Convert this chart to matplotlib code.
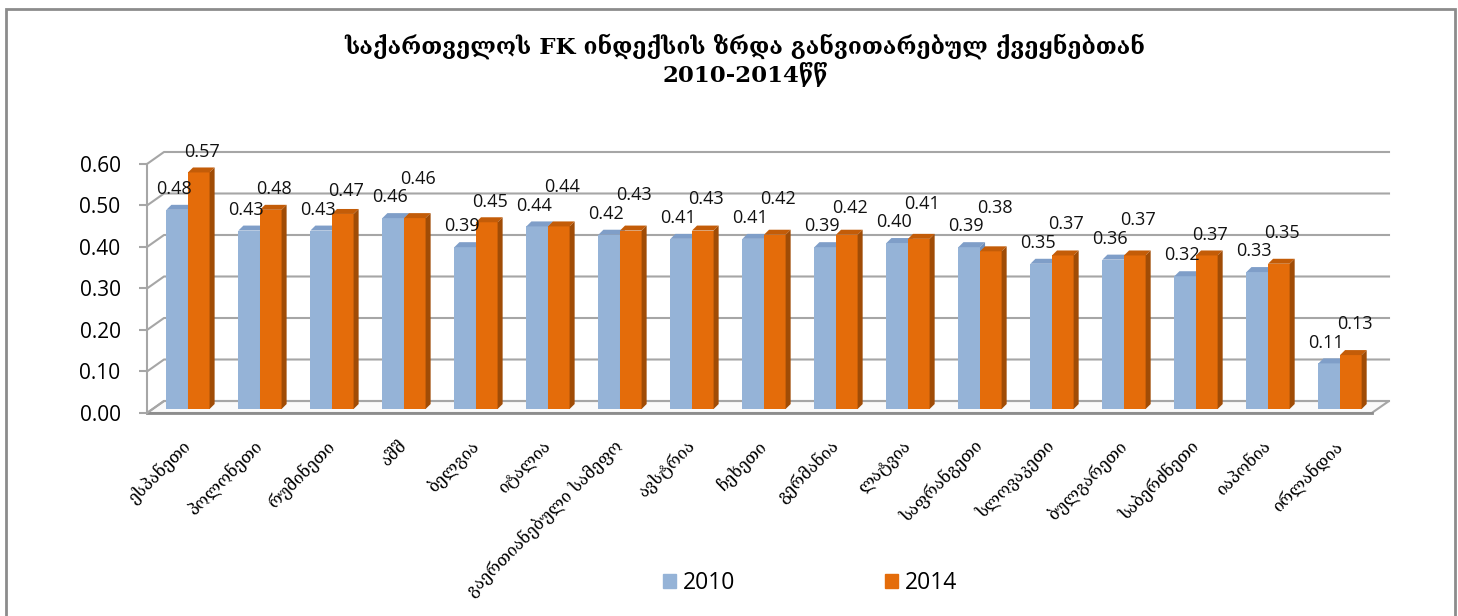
import numpy as np
import matplotlib
matplotlib.use("Agg")
import matplotlib.pyplot as plt
from matplotlib.patches import Polygon, Rectangle, Patch

countries = ["ესპანეთი", "პოლონეთი", "რუმინეთი", "აშშ", "ბელგია", "იტალია",
             "გაერთიანებული სამეფო", "ავსტრია", "ჩეხეთი", "გერმანია", "ლატვია",
             "საფრანგეთი", "სლოვაკეთი", "ბულგარეთი", "საბერძნეთი", "იაპონია", "ირლანდია"]
v2010 = [0.48, 0.43, 0.43, 0.46, 0.39, 0.44, 0.42, 0.41, 0.41, 0.39, 0.40,
         0.39, 0.35, 0.36, 0.32, 0.33, 0.11]
v2014 = [0.57, 0.48, 0.47, 0.46, 0.45, 0.44, 0.43, 0.43, 0.42, 0.42, 0.41,
         0.38, 0.37, 0.37, 0.37, 0.35, 0.13]
yticks = [0.0, 0.1, 0.2, 0.3, 0.4, 0.5, 0.6]
title1 = "საქართველოს FK ინდექსის ზრდა განვითარებულ ქვეყნებთან"
title2 = "2010-2014წწ"

BLUE, BLUE_TOP, BLUE_SIDE = "#95b3d7", "#7f9ec8", "#6f8fba"
ORANGE, ORANGE_TOP, ORANGE_SIDE = "#e46c0a", "#c35c08", "#a04c06"
GRID = "#a6a6a6"
GEO = ["DejaVu Serif", "DejaVu Sans"]

# 3d frame (data units: 1 category = 72px, 1.0 value = 415px)
xl_front, xl_back = -0.569, -0.333
xr_front, xr_back = 16.44, 16.68
yf, yb = -0.0096, 0.0193
ddx, ddy = 0.07, 0.012
w = 0.3

fig = plt.figure(figsize=(14.58, 6.16), dpi=100)
ax = fig.add_axes([147 / 1458, (616 - 413) / 616, (1389 - 147) / 1458, (413 - 150) / 616])
ax.set_xlim(xl_front, xr_back)
ax.set_ylim(yf, 0.6241)
for s in ["top", "right", "bottom"]:
    ax.spines[s].set_visible(False)
ax.spines["left"].set_color(GRID)
ax.spines["left"].set_linewidth(1.5)
ax.spines["left"].set_bounds(yf, 0.6 + yf)

# floor
floor = Polygon([(xl_front, yf), (xr_front, yf), (xr_back, yb), (xl_back, yb)],
                closed=True, facecolor="#fafafa", edgecolor=GRID, lw=1.5,
                zorder=1, clip_on=False)
ax.add_patch(floor)
ax.plot([xl_front, xr_front], [yf, yf], color="#8c8c8c", lw=2, zorder=1, clip_on=False)

# gridlines on back wall
for v in yticks:
    ax.plot([xl_front, xl_back, xr_back], [v + yf, v + yb, v + yb],
            color=GRID, lw=1.5, zorder=1, clip_on=False)

x = np.arange(len(countries))


def bar3d(vals, left, front, top, side, z):
    ax.bar(left + w / 2, vals, width=w, color=front, zorder=z, linewidth=0)
    for xl, v in zip(left, vals):
        xr = xl + w
        ax.add_patch(Polygon([(xl, v), (xl + ddx, v + ddy), (xr + ddx, v + ddy), (xr, v)],
                             facecolor=top, lw=0, zorder=z))
        ax.add_patch(Polygon([(xr, 0), (xr + ddx, ddy), (xr + ddx, v + ddy), (xr, v)],
                             facecolor=side, lw=0, zorder=z))


bar3d(v2010, x - w, BLUE, BLUE_TOP, BLUE_SIDE, 3)
bar3d(v2014, x, ORANGE, ORANGE_TOP, ORANGE_SIDE, 4)

# value labels, the 2014 one lifted when it would collide with the 2010 one
for i in x:
    yb_lab = v2010[i] + 0.05
    yo_lab = v2014[i] + 0.05
    if abs(yo_lab - yb_lab) < 0.045:
        yo_lab = yb_lab + 0.045
    ax.text(i - 0.2, yb_lab, f"{v2010[i]:.2f}", ha="center", va="center",
            fontsize=13, family="Open Sans", color="#111111", zorder=6)
    ax.text(i + 0.2, yo_lab, f"{v2014[i]:.2f}", ha="center", va="center",
            fontsize=13, family="Open Sans", color="#111111", zorder=6)

ax.set_yticks([v + yf for v in yticks])
ax.set_yticklabels([f"{v:.2f}" for v in yticks], fontsize=15, family="Open Sans")
ax.tick_params(axis="y", length=6, width=1.5, color=GRID, pad=13)

ax.set_xticks(x)
ax.set_xticklabels(countries, rotation=45, ha="right", va="center",
                   rotation_mode="anchor", fontsize=12, family=GEO)
ax.tick_params(axis="x", length=0, pad=22)

fig.text(745 / 1458, 1 - 46 / 616, title1, ha="center", va="center",
         fontsize=16.5, fontweight="bold", family=GEO)
fig.text(745 / 1458, 1 - 75 / 616, title2, ha="center", va="center",
         fontsize=16.5, fontweight="bold", family=GEO)

handles = [Patch(color=BLUE), Patch(color=ORANGE)]
fig.legend(handles, ["2010", "2014"], ncol=2, loc="center",
           bbox_to_anchor=(810 / 1458, 1 - 583 / 616), frameon=False,
           prop={"family": "Open Sans", "size": 16.5}, handlelength=0.6,
           handleheight=0.6, handletextpad=0.3, columnspacing=6.5)

fig.patches.append(Rectangle((6 / 1458, -0.1), (1455 - 6) / 1458, 1.1 - 9 / 616,
                             transform=fig.transFigure, fill=False,
                             edgecolor="#8c8c8c", lw=2))

fig.savefig("out.png", dpi=100)
